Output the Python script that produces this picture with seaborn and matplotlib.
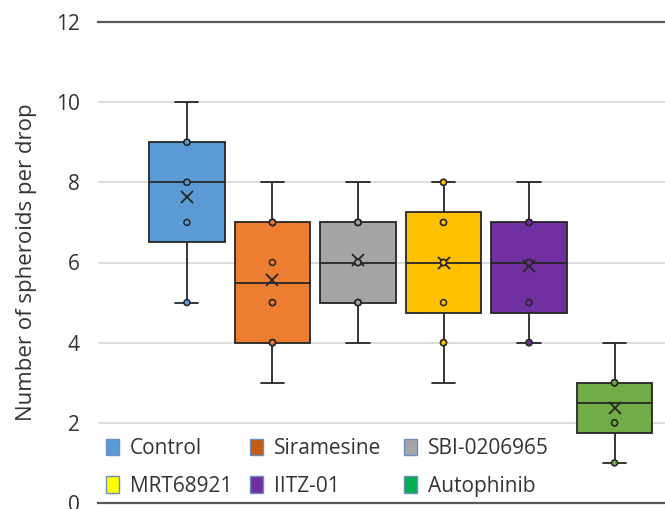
import numpy as np
import pandas as pd
import matplotlib.pyplot as plt
from matplotlib.patches import Patch
import seaborn as sns

groups = ["Control", "Siramesine", "SBI-0206965", "MRT68921", "IITZ-01", "Autophinib"]
control = [5, 5, 7, 8, 8, 9, 9, 10]
siramesine = [3, 4, 4, 4, 4, 5, 5, 6, 7, 7, 7, 7, 7, 8]
sbi = [4, 5, 5, 5, 5, 6, 6, 6, 7, 7, 7, 7, 7, 8]
mrt = [3, 4, 4, 5, 6, 6, 6, 7, 7, 8, 8, 8]
iitz = [4, 4, 4, 5, 6, 6, 6, 7, 7, 7, 7, 8]
autophinib = [1, 1, 2, 2, 3, 3, 3, 4]

box_colors = ["#5B9BD5", "#ED7D31", "#A5A5A5", "#FFC000", "#7030A0", "#70AD47"]
legend_colors = ["#5B9BD5", "#C55A11", "#A5A5A5", "#FFFF00", "#7030A0", "#00B050"]

values = [control, siramesine, sbi, mrt, iitz, autophinib]
df = pd.DataFrame([(g, v) for g, vals in zip(groups, values) for v in vals],
                  columns=["group", "value"])
# inner points: everything except the single min / max whisker ends
df_pts = pd.DataFrame([(g, v) for g, vals in zip(groups, values) for v in sorted(vals)[1:-1]],
                      columns=["group", "value"])

sns.set_style("white")
plt.rcParams["font.family"] = ["Open Sans", "DejaVu Sans"]

fig = plt.figure(figsize=(6.65, 5.09), dpi=100)
ax = fig.add_axes([98 / 665, 6 / 509, 1 - 98 / 665, 481 / 509])

dark = "#262626"
sns.boxplot(data=df, x="group", y="value", hue="group", order=groups,
            palette=box_colors, saturation=1, width=0.88, whis=(0, 100),
            linecolor=dark, linewidth=1.3, showmeans=True, legend=False,
            capwidths=0.27,
            meanprops=dict(marker="x", markeredgecolor=dark, markersize=9,
                           markeredgewidth=1.3),
            ax=ax)
sns.stripplot(data=df_pts, x="group", y="value", hue="group", order=groups,
              palette=box_colors, jitter=False, size=4.3, linewidth=1.1,
              edgecolor=dark, legend=False, ax=ax, zorder=5)

ax.set_ylim(0, 12)
ax.set_xlim(-1.04, 5.59)
ax.set_yticks(range(0, 13, 2))
ax.set_xticks([])
ax.set_xlabel("")
ax.set_ylabel("Number of spheroids per drop", fontsize=16, color="#333333", labelpad=14)
ax.tick_params(axis="y", labelsize=15, colors="#333333", length=0, pad=13)
ax.yaxis.grid(True, color="#D9D9D9", linewidth=1.3)
ax.set_axisbelow(True)
for side in ["left", "right"]:
    ax.spines[side].set_visible(False)
for side in ["top", "bottom"]:
    ax.spines[side].set_color("#595959")
    ax.spines[side].set_linewidth(1.6)

# legend laid out as three columns like the Excel one
columns = [(0, 3, 2), (1, 4, 146), (2, 5, 300)]
for k, (top, bottom, xpx) in enumerate(columns):
    handles = [Patch(facecolor=legend_colors[i], edgecolor="#6C8EBF", linewidth=1,
                     label=groups[i]) for i in (top, bottom)]
    leg = ax.legend(handles=handles, loc="lower left", bbox_to_anchor=(xpx / 567, 0.0),
                    frameon=False, fontsize=15, handlelength=0.62, handleheight=0.85,
                    handletextpad=0.5, labelspacing=0.8,
                    borderaxespad=0.0, borderpad=0.3, labelcolor="#333333")
    if k < len(columns) - 1:
        ax.add_artist(leg)

fig.savefig("out.png", dpi=100)
